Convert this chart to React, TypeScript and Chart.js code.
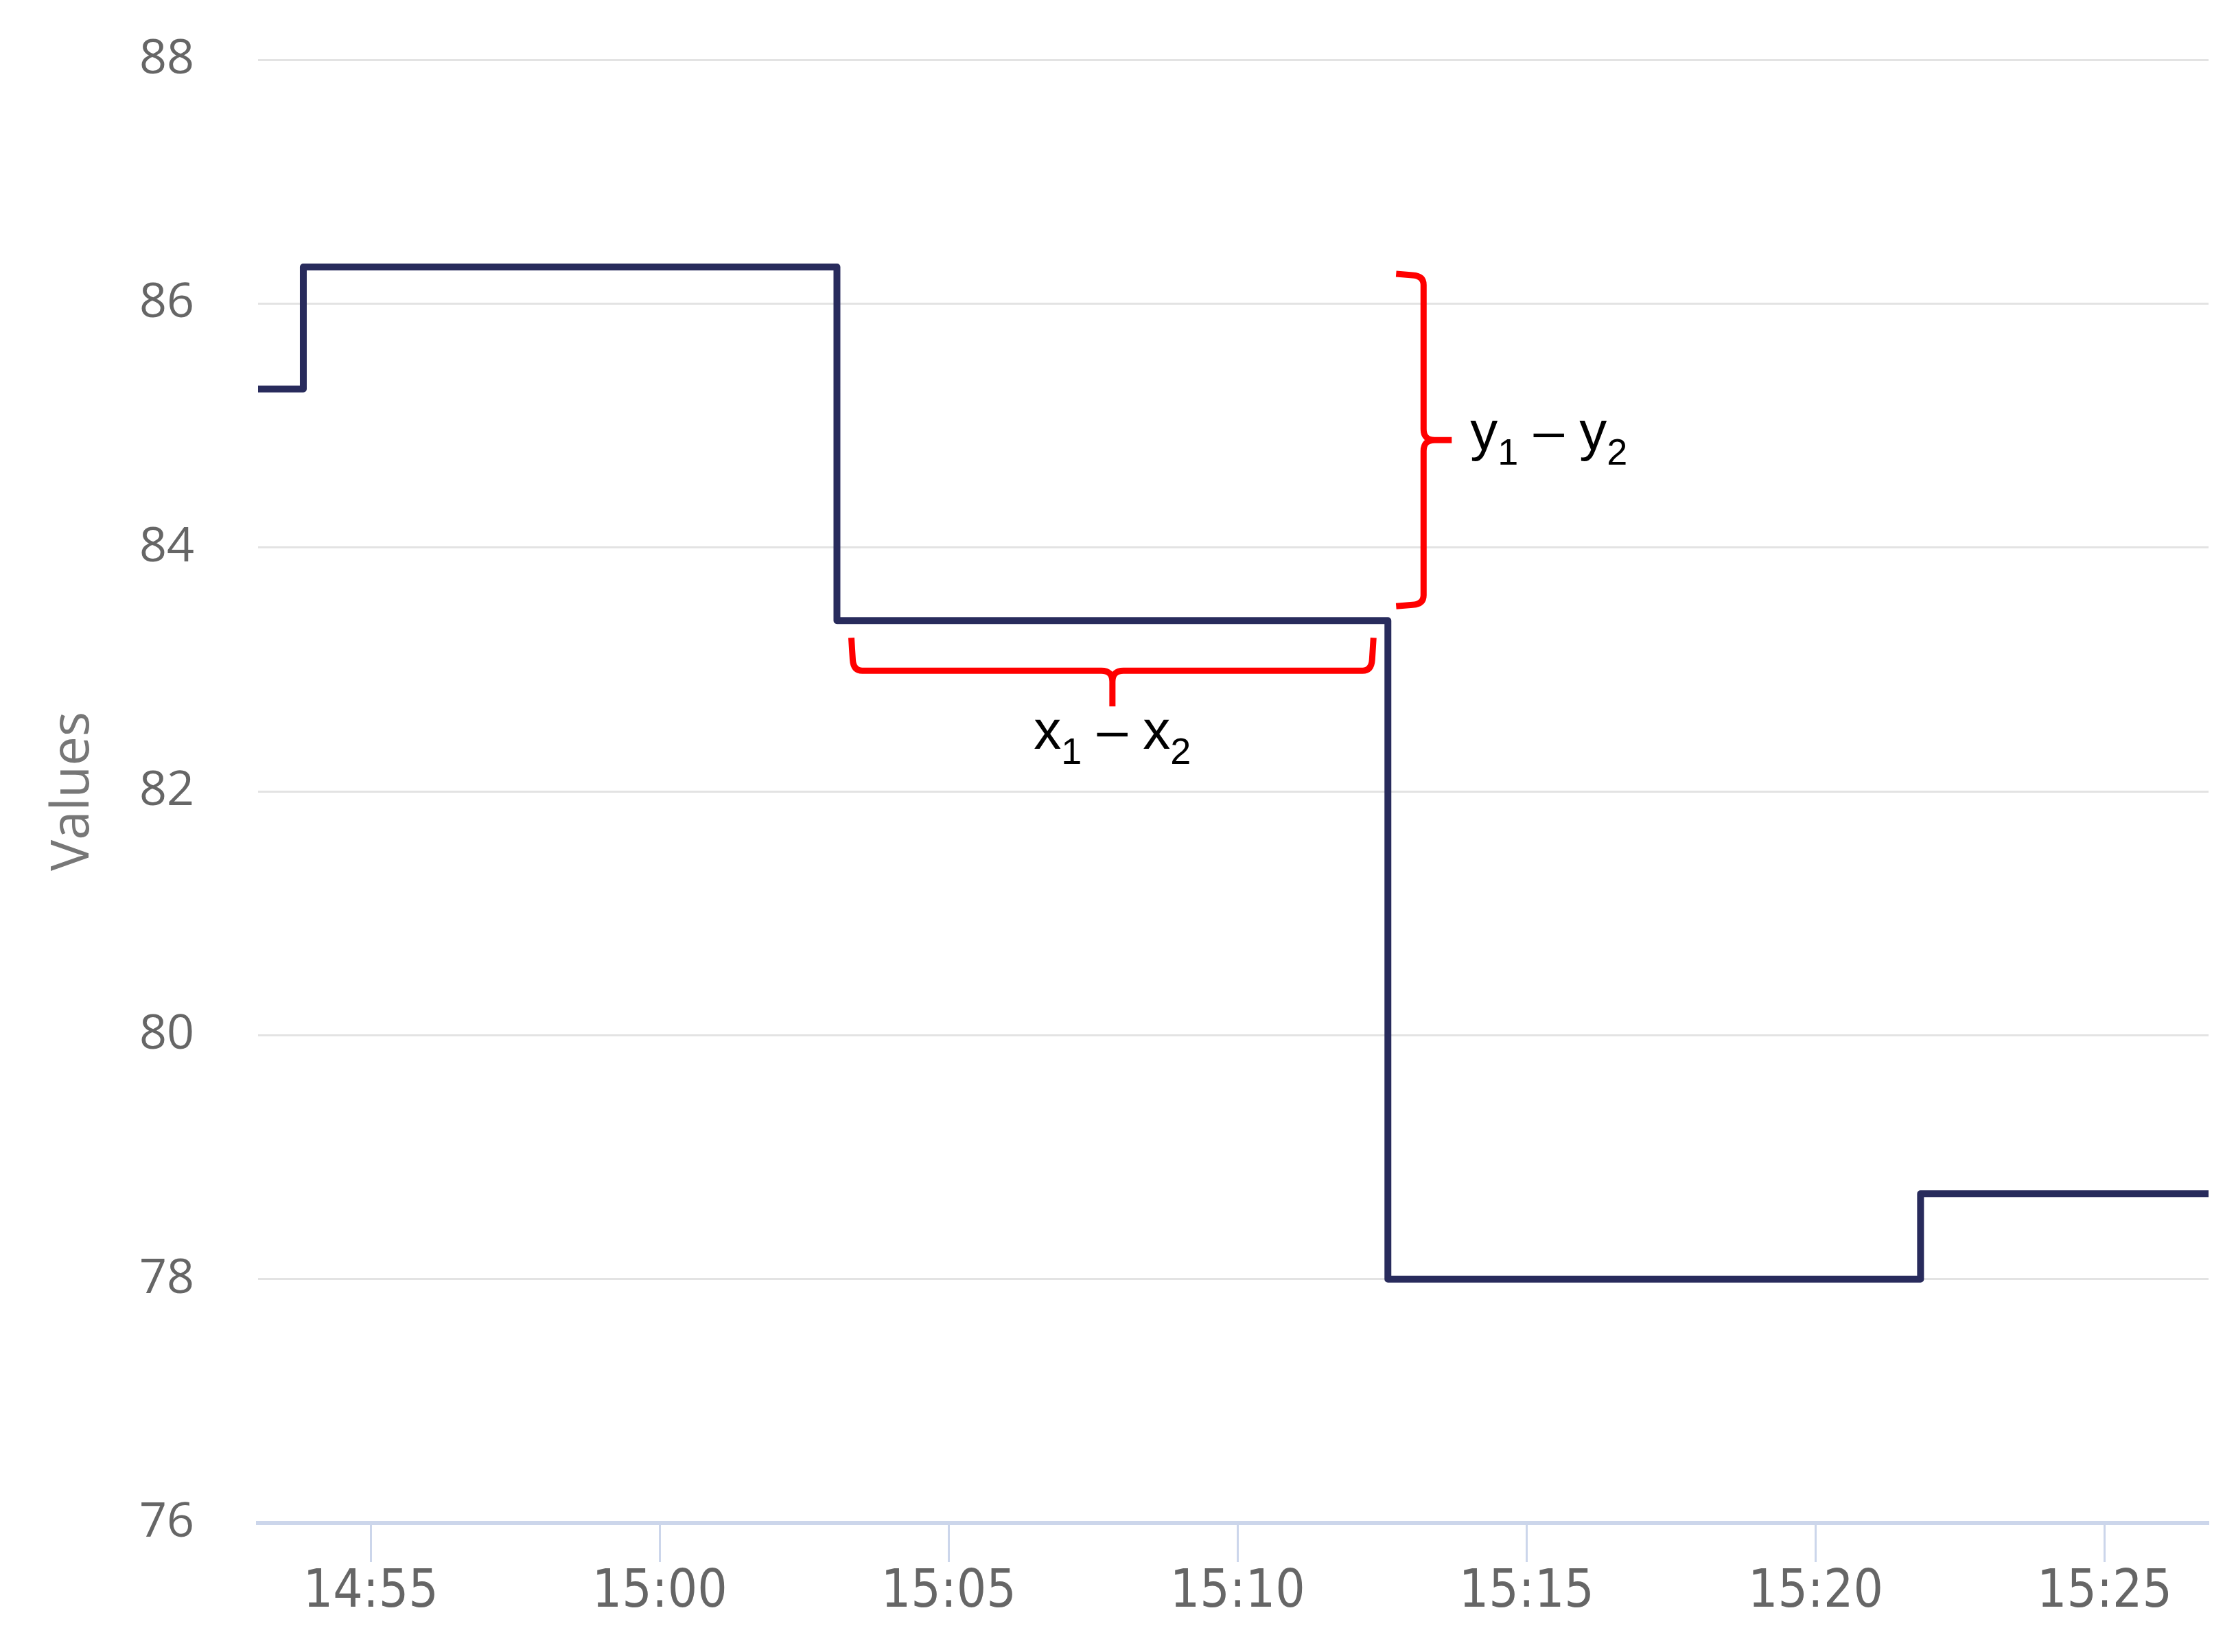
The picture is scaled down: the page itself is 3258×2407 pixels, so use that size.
import React, { useEffect, useRef } from "react";
import { Chart, registerables } from "chart.js";

Chart.register(...registerables);

// Step series: each point is the moment the value changes and the new value.
const stepTimes = ["14:53:03", "14:53:50", "15:03:04", "15:12:36", "15:21:49", "15:26:48"];
const stepValues = [85.3, 86.3, 83.4, 78.0, 78.7, 78.7];

// Axis settings
const xRangeStart = "14:53:03";
const xRangeEnd = "15:26:48";
const xTickLabels = ["14:55", "15:00", "15:05", "15:10", "15:15", "15:20", "15:25"];
const yMin = 76;
const yMax = 88;
const yStep = 2;
const yAxisTitle = "Values";

// Bracket labels: [text, isSubscript]
const xSpanLabel: [string, boolean][] = [["x", false], ["1", true], [" \u2013 ", false], ["x", false], ["2", true]];
const ySpanLabel: [string, boolean][] = [["y", false], ["1", true], [" \u2013 ", false], ["y", false], ["2", true]];

const W = 3258;
const H = 2407;
const LINE_COLOR = "#282b5c";
const RED = "#ff0000";
const LABEL_FONT = "'Liberation Sans', Arial, sans-serif";

function toMinutes(t: string): number {
  const [h, m, s] = t.split(":").map(Number);
  return h * 60 + m + (s || 0) / 60;
}

function drawSubLabel(
  ctx: CanvasRenderingContext2D,
  parts: [string, boolean][],
  x: number,
  baseline: number,
  align: "left" | "center"
) {
  const mainFont = `80px ${LABEL_FONT}`;
  const subFont = `54px ${LABEL_FONT}`;
  let total = 0;
  const widths = parts.map(([txt, sub]) => {
    ctx.font = sub ? subFont : mainFont;
    const w = ctx.measureText(txt).width;
    total += w;
    return w;
  });
  let cx = align === "center" ? x - total / 2 : x;
  ctx.fillStyle = "#000";
  ctx.textAlign = "left";
  ctx.textBaseline = "alphabetic";
  parts.forEach(([txt, sub], i) => {
    ctx.font = sub ? subFont : mainFont;
    ctx.fillText(txt, cx, sub ? baseline + 22 : baseline);
    cx += widths[i];
  });
}

// Curly brackets marking the width and the drop of the middle step.
const bracketPlugin = {
  id: "spanBrackets",
  afterDatasetsDraw(chart: any) {
    const { ctx, scales } = chart;
    const xs = scales.x;
    const ys = scales.y;
    const xa = xs.getPixelForValue(toMinutes(stepTimes[2]));
    const xb = xs.getPixelForValue(toMinutes(stepTimes[3]));
    const yLevel = ys.getPixelForValue(stepValues[2]);
    const yHigh = ys.getPixelForValue(stepValues[1]);
    const r = 16;

    ctx.save();
    ctx.strokeStyle = RED;
    ctx.lineWidth = 9;
    ctx.lineCap = "butt";
    ctx.lineJoin = "round";

    // horizontal bracket under the segment
    const xL = xa + 21;
    const xR = xb - 21;
    const yTop = yLevel + 25;
    const yLine = yLevel + 73;
    const yTip = yLevel + 125;
    const xm = (xL + xR) / 2;
    ctx.beginPath();
    ctx.moveTo(xL, yTop);
    ctx.lineTo(xL + 2, yLine - r);
    ctx.quadraticCurveTo(xL + 3, yLine, xL + r, yLine);
    ctx.lineTo(xm - r, yLine);
    ctx.quadraticCurveTo(xm, yLine, xm, yLine + r);
    ctx.lineTo(xm, yTip);
    ctx.moveTo(xR, yTop);
    ctx.lineTo(xR - 2, yLine - r);
    ctx.quadraticCurveTo(xR - 3, yLine, xR - r, yLine);
    ctx.lineTo(xm + r, yLine);
    ctx.quadraticCurveTo(xm, yLine, xm, yLine + r);
    ctx.stroke();

    // vertical bracket beside the drop
    const yT = yHigh + 10;
    const yB = yLevel - 21;
    const xArm = xb + 12;
    const xLine = xb + 52;
    const xTip = xb + 93;
    const ym = (yT + yB) / 2;
    ctx.beginPath();
    ctx.moveTo(xArm, yT);
    ctx.lineTo(xLine - r, yT + 2);
    ctx.quadraticCurveTo(xLine, yT + 3, xLine, yT + r);
    ctx.lineTo(xLine, ym - r);
    ctx.quadraticCurveTo(xLine, ym, xLine + r, ym);
    ctx.lineTo(xTip, ym);
    ctx.moveTo(xArm, yB);
    ctx.lineTo(xLine - r, yB - 2);
    ctx.quadraticCurveTo(xLine, yB - 3, xLine, yB - r);
    ctx.lineTo(xLine, ym + r);
    ctx.quadraticCurveTo(xLine, ym, xLine + r, ym);
    ctx.stroke();

    drawSubLabel(ctx, xSpanLabel, xm, yTip + 62, "center");
    drawSubLabel(ctx, ySpanLabel, xTip + 27, ym + 14, "left");
    ctx.restore();
  },
};

export default function App() {
  const canvasRef = useRef<HTMLCanvasElement | null>(null);

  useEffect(() => {
    const canvas = canvasRef.current;
    if (!canvas) return;
    const points = stepTimes.map((t, i) => ({ x: toMinutes(t), y: stepValues[i] }));
    const tickValues = xTickLabels.map(toMinutes);

    const chart = new Chart(canvas, {
      type: "line",
      data: {
        datasets: [
          {
            data: points,
            stepped: "before",
            borderColor: LINE_COLOR,
            borderWidth: 10,
            borderJoinStyle: "round",
            pointRadius: 0,
            fill: false,
          },
        ],
      },
      options: {
        animation: false,
        responsive: false,
        devicePixelRatio: 1,
        layout: { padding: { left: 0, top: 87, right: 40, bottom: 0 } },
        plugins: {
          legend: { display: false },
          tooltip: { enabled: false },
        },
        scales: {
          x: {
            type: "linear",
            min: toMinutes(xRangeStart),
            max: toMinutes(xRangeEnd),
            afterBuildTicks: (scale: any) => {
              scale.ticks = tickValues.map((v) => ({ value: v }));
            },
            afterFit: (scale: any) => {
              scale.height = 188;
            },
            grid: {
              drawOnChartArea: false,
              drawTicks: true,
              tickLength: 57,
              tickColor: "#ccd6eb",
              tickWidth: 3,
            },
            border: { display: true, color: "#ccd6eb", width: 6 },
            ticks: {
              autoSkip: false,
              maxRotation: 0,
              padding: 0,
              color: "#666666",
              font: { family: "'Liberation Sans Narrow', 'DejaVu Sans Condensed', 'Open Sans', sans-serif", size: 76 },
              callback: (_v: any, i: number) => xTickLabels[i],
            },
          },
          y: {
            type: "linear",
            min: yMin,
            max: yMax,
            afterFit: (scale: any) => {
              scale.width = 376;
            },
            title: {
              display: true,
              text: yAxisTitle,
              color: "#777777",
              font: { family: "'Open Sans', 'Noto Sans', sans-serif", size: 76 },
              padding: { top: 62, bottom: 0 },
            },
            grid: {
              drawTicks: true,
              tickLength: 88,
              tickColor: "rgba(0,0,0,0)",
              lineWidth: 3,
              color: (c: any) => (c.tick && c.tick.value === yMin ? "rgba(0,0,0,0)" : "#e3e3e3"),
            },
            border: { display: false },
            ticks: {
              stepSize: yStep,
              padding: 5,
              color: "#666666",
              font: { family: "'Open Sans', 'Noto Sans', sans-serif", size: 70 },
            },
          },
        },
      },
      plugins: [bracketPlugin],
    } as any);

    return () => chart.destroy();
  }, []);

  return (
    <div style={{ position: "absolute", left: 0, top: 0, width: W, height: H, background: "#ffffff" }}>
      <canvas ref={canvasRef} width={W} height={H} style={{ display: "block", width: W, height: H }} />
    </div>
  );
}
